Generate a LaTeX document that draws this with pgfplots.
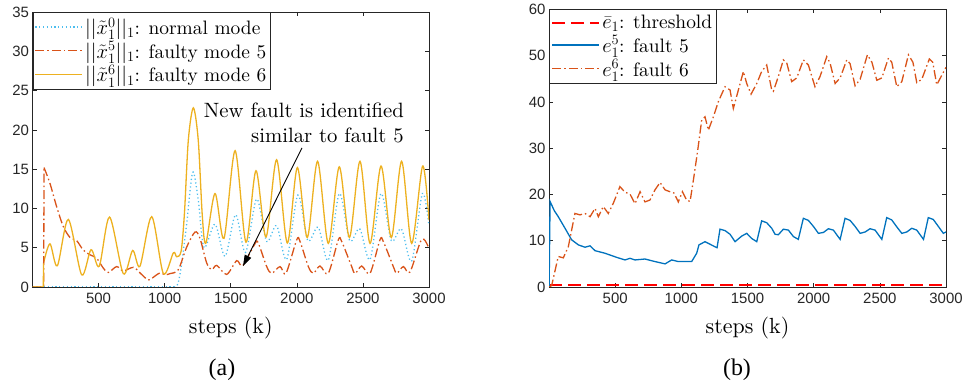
\documentclass[border=0pt]{standalone}
\usepackage{fontspec}
\setmainfont{lmroman10-regular.otf}[ItalicFont=lmroman10-italic.otf, BoldFont=lmroman10-bold.otf]
\usepackage{pgfplots}
\pgfplotsset{compat=1.18}
\usetikzlibrary{arrows.meta}
\newfontfamily\ticksans{Liberation Sans}
\newfontfamily\capserif{Liberation Serif}
\definecolor{mblue}{RGB}{0,114,189}
\definecolor{mlblue}{RGB}{77,190,238}
\definecolor{morange}{RGB}{217,83,25}
\definecolor{myellow}{RGB}{237,177,32}
\definecolor{maxis}{RGB}{38,38,38}
\pgfplotsset{
  mstyle/.style={
    scale only axis,
    xmin=0, xmax=3000,
    xtick={500,1000,...,3000},
    /pgf/number format/assume math mode=true,
    /pgf/number format/1000 sep={},
    tick label style={font=\ticksans\fontsize{15}{15}\selectfont, color=maxis},
    xticklabel style={yshift=-3bp},
    axis line style={color=maxis, line width=0.6bp},
    major tick style={color=maxis, line width=0.6bp},
    major tick length=4bp,
    tick align=inside,
    xlabel={steps (k)},
    label style={font=\fontsize{22}{22}\selectfont},
    xlabel style={yshift=-6bp},
    legend cell align=left,
    legend style={at={(0,1)}, anchor=north west, draw=maxis, line width=0.6bp,
      font=\fontsize{19.5}{23}\selectfont, inner xsep=2bp, inner ysep=3.5bp, row sep=1.5bp, fill=white},
    legend image code/.code={\draw[#1] (0bp,0bp) -- (47bp,0bp);},
  }
}
\begin{document}
\begin{tikzpicture}
\path[use as bounding box] (0,0) rectangle (964bp,386bp);
\begin{axis}[mstyle, at={(32.5bp,99bp)}, anchor=south west,
  width=396.5bp, height=275bp,
  ymin=0, ymax=35, ytick={0,5,...,35}]
\addplot[mlblue, line width=1.3bp, dash pattern=on 1.2bp off 2.6bp, smooth, tension=0.5] coordinates {
(1070,0)(1100,0.4)(1129,3.0)(1167,8.1)(1212,14.6)(1254,11.1)(1298,5.0)(1381,8.0)(1457,3.9)(1537,9.2)(1612,4.4)(1696,11.2)(1772,5.8)(1847,7.8)(1923,3.5)(2008,11.7)(2083,5.9)(2162,7.6)(2238,3.4)(2322,11.9)(2400,5.9)(2476,7.4)(2554,3.5)(2637,11.9)(2715,5.9)(2791,7.4)(2869,3.3)(2950,11.9)(3000,7.8)};
\addlegendentry{$||\tilde{x}_1^0||_1$: normal mode}
\addplot[morange, line width=1.3bp, dash pattern=on 9bp off 3bp on 1.5bp off 3bp, smooth, tension=0.5] coordinates {
(87,15.2)(132,13.2)(183,10.2)(233,7.7)(284,6.3)(334,5.9)(384,4.7)(435,4.1)(486,3.65)(536,2.4)(574,1.85)(637,2.6)(687,2.05)(763,2.5)(813,1.8)(876,0.9)(927,1.4)(965,1.8)(1003,1.55)(1040,1.7)(1103,2.2)(1167,5.1)(1230,7.0)(1267,6.2)(1318,3.05)(1356,2.2)(1394,2.75)(1469,1.6)(1545,3.35)(1590,2.7)(1683,5.5)(1708,5.6)(1772,2.6)(1810,1.74)(1873,2.6)(1918,1.74)(1999,6.0)(2024,5.8)(2087,2.6)(2125,1.74)(2175,2.67)(2238,1.74)(2314,6.0)(2339,5.8)(2415,2.6)(2440,1.7)(2491,2.67)(2554,1.74)(2629,6.0)(2654,5.8)(2730,2.6)(2756,1.74)(2806,2.6)(2856,1.9)(2945,6.07)(3000,4.9)};
\addlegendentry{$||\tilde{x}_1^5||_1$: faulty mode 5}
\addplot[myellow, line width=1.3bp, smooth, tension=0.5] coordinates {
(83,3.0)(132,5.5)(188,2.7)(271,8.6)(372,1.55)(443,4.75)(505,2.65)(583,8.9)(687,1.7)(758,4.65)(813,2.65)(902,8.95)(990,1.72)(1066,4.35)(1091,3.85)(1125,4.6)(1150,9.5)(1179,18.7)(1217,22.8)(1254,18.7)(1285,9)(1312,5.6)(1381,11.9)(1449,6.2)(1533,17.35)(1615,5.7)(1691,14.8)(1767,6.36)(1847,16.2)(1928,5.6)(2004,15.2)(2079,6.3)(2157,16.0)(2238,5.55)(2321,15.3)(2398,6.3)(2478,16.0)(2554,5.55)(2637,15.4)(2715,6.3)(2793,16.0)(2869,5.55)(2952,15.4)(3000,8.5)};
\addlegendentry{$||\tilde{x}_1^6||_1$: faulty mode 6}
\addplot[mlblue, line width=1.3bp, dash pattern=on 1.2bp off 2.6bp, forget plot] coordinates {(0,0)(1070,0)};
\addplot[morange, line width=1.3bp, dash pattern=on 9bp off 3bp on 1.5bp off 3bp, forget plot] coordinates {(0,0)(85,0)(87,15.2)};
\addplot[myellow, line width=1.3bp, forget plot] coordinates {(0,0)(82,0)(83,3.0)};
\draw[-{Triangle[length=11bp,width=7bp]}, line width=0.9bp] (axis cs:2039,17.7) -- (axis cs:1593,2.67);
\node[anchor=east, align=right, font=\fontsize{20.8}{25}\selectfont, inner sep=0pt] at (axis cs:2811,20.9) {New fault is identified\\similar to fault 5};
\end{axis}
\begin{axis}[mstyle, at={(549bp,99bp)}, anchor=south west,
  width=397bp, height=277.5bp,
  ymin=0, ymax=60, ytick={0,10,...,60}]
\addplot[red, line width=2bp, dash pattern=on 13bp off 6bp] coordinates {(0,0.45)(3000,0.45)};
\addlegendentry{$\bar{e}_1$: threshold}
\addplot[mblue, line width=1.3bp] coordinates {
(1,0)(8,18.5)(40,16.5)(70,15.2)(121,12.7)(171,10.2)(222,9.1)(272,8.6)(310,8.9)(348,7.85)(423,7.3)(512,6.4)(574,5.85)(612,6.2)(650,5.85)(725,6.05)(801,5.5)(877,5.0)(927,5.85)(977,5.5)(1078,5.5)(1116,7.3)(1133,9.1)(1179,9.8)(1254,8.7)(1270,8.5)(1292,12.5)(1330,12.2)(1368,11.4)(1406,9.8)(1456,11.0)(1494,11.6)(1531,10.5)(1570,9.8)(1607,14.3)(1645,13.9)(1683,12.7)(1708,11.4)(1733,11.3)(1771,12.5)(1809,12.3)(1847,10.9)(1884,10.3)(1922,14.85)(1960,14.4)(1998,13.1)(2036,11.6)(2074,11.8)(2111,12.6)(2149,12.3)(2187,10.8)(2200,10.3)(2237,14.85)(2275,14.4)(2313,13.1)(2351,11.6)(2389,11.9)(2426,12.6)(2464,12.3)(2502,10.8)(2515,10.3)(2552,15.0)(2590,14.5)(2628,13.0)(2666,11.6)(2704,11.9)(2741,12.7)(2779,12.3)(2817,10.8)(2830,10.3)(2866,15.0)(2904,14.6)(2942,13.1)(2980,11.6)(3000,11.9)};
\addlegendentry{$e_1^5$: fault 5}
\addplot[morange, line width=1.3bp, dash pattern=on 9bp off 3bp on 1.5bp off 3bp] coordinates {
(1,0)(20,0.3)(70,6.6)(108,6.3)(146,8.7)(196,15.9)(234,15.6)(272,15.9)(310,15.2)(348,17.0)(373,15.2)(410,17.4)(448,15.9)(486,18.1)(536,21.7)(574,20.5)(612,20.1)(650,18.0)(688,20.6)(725,18.4)(763,18.8)(801,21.0)(839,22.6)(877,21.0)(914,20.6)(945,20.3)(977,18.4)(1008,20.6)(1040,18.8)(1066,18.5)(1091,23.1)(1124,29.6)(1154,36.1)(1179,36.8)(1204,33.9)(1242,36.8)(1280,40.1)(1330,43.3)(1368,42.6)(1393,38.6)(1431,42.6)(1469,46.6)(1494,44.0)(1527,41.7)(1570,44.0)(1607,46.6)(1645,48.0)(1683,42.6)(1695,42.3)(1733,45.5)(1771,49.1)(1796,48.5)(1834,44.4)(1872,45.2)(1922,49.1)(1960,48.0)(2010,43.3)(2048,45.5)(2099,49.8)(2124,48.4)(2162,44.0)(2200,45.2)(2250,49.1)(2275,48.3)(2313,43.5)(2351,44.9)(2406,50.2)(2440,48.6)(2477,44.7)(2515,45.2)(2565,49.5)(2590,48.6)(2628,43.3)(2666,44.4)(2716,50.2)(2750,48.6)(2779,44.2)(2817,44.9)(2874,49.3)(2900,48.6)(2930,43.7)(2963,45.5)(3000,47.5)};
\addlegendentry{$e_1^6$: fault 6}
\end{axis}
\node[font=\capserif\fontsize{24}{24}\selectfont] at (222bp,16bp) {(a)};
\node[font=\capserif\fontsize{24}{24}\selectfont] at (737bp,16bp) {(b)};
\end{tikzpicture}
\end{document}
